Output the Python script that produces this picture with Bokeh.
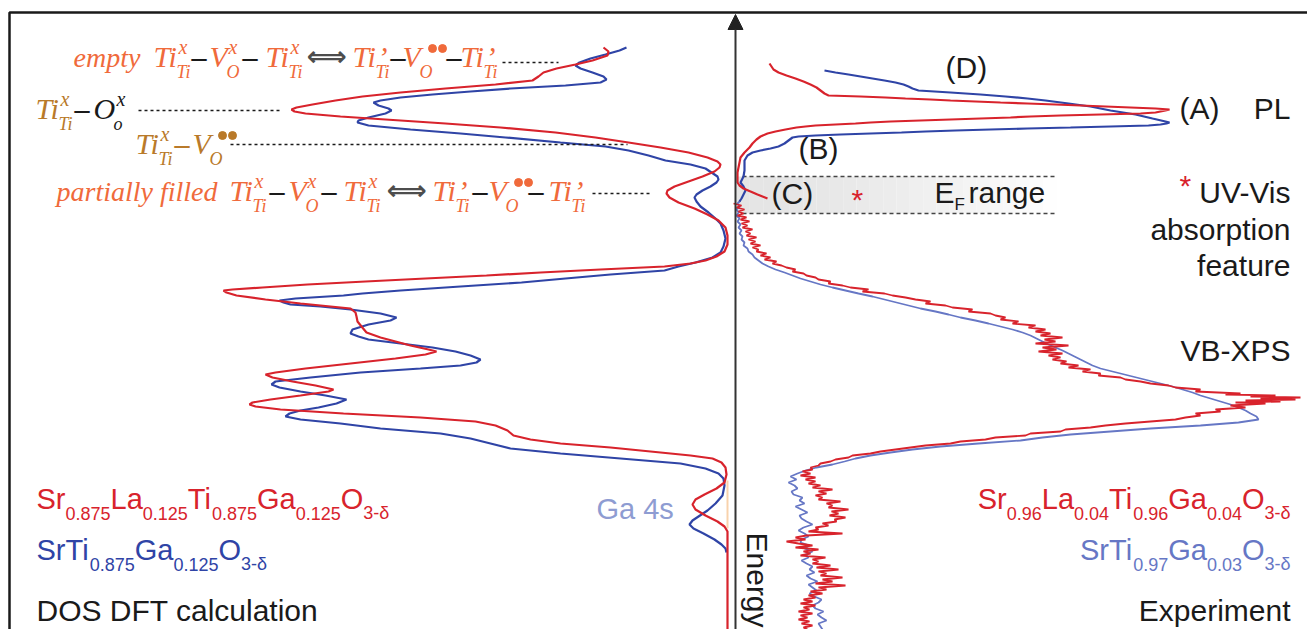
import math
from bokeh.plotting import figure
from bokeh.models import Range1d, Arrow, NormalHead
from bokeh.core.properties import value
from bokeh.embed import file_html
from bokeh.resources import INLINE

W, H = 1307, 629
AXIS_X = 735

RED = "#D8232C"
BLUE = "#2F44A6"
BLUE_L = "#6677C5"
ORANGE = "#F06A3B"
GOLD = "#B97A2A"
GA = "#8E9CD2"
INK = "#1a1a1a"
SANS = "Liberation Sans"
SERIF = "Liberation Serif"

# ---------------- data ----------------
# rows = energy level (pixel row from the top of the panel), x = curve position
dos_red_row = [47,51,55,60,64,68,72,76,80,84,88,92,96,100,104,107,109,111,113,116,
               119,123,127,132,137,142,147,152,157,161,164,167,171,176,181,186,190,193,197,202,
               208,214,220,227,235,244,251,256,260,263,266,269,272,275,278,281,284,287,289,290,
               292,295,299,303,308,312,316,321,326,332,337,341,345,349,351,354,358,363,368,372,
               374,377,381,385,389,391,395,399,402,404,406,409,413,417,421,425,430,435,439,443,
               447,451,455,458,462,467,474,482,488,494,499,504,509,515,521,526,531,629]
dos_red_x = [603,608,607,592,575,556,543,538,532,495,445,400,362,335,312,296,291,294,305,340,
             385,445,500,555,595,628,660,688,707,717,720,719,714,702,688,674,667,666,669,678,
             694,707,718,725,727,727,724,716,705,690,664,600,540,486,425,365,307,262,232,223,
             226,236,265,300,350,355,356,357,361,366,380,395,410,428,436,425,395,350,305,275,
             265,272,292,315,333,328,300,270,252,249,255,280,343,420,475,495,507,513,530,560,
             610,650,690,712,721,725,726,724,716,704,695,692,695,705,717,724,727,727]

dos_blue_row = [47,50,54,58,62,65,68,72,76,79,82,85,88,91,94,97,100,102,105,108,
                110,113,117,120,122,125,129,133,137,142,146,150,155,160,164,168,172,176,179,182,
                186,190,194,197,201,206,212,218,223,230,238,246,252,257,262,266,270,274,278,282,
                286,290,293,295,298,300,302,304,306,309,313,317,320,324,329,333,336,339,343,347,
                351,355,359,362,365,368,372,377,381,384,387,391,395,399,403,407,410,413,416,419,
                423,428,433,438,443,448,453,458,463,468,473,478,485,495,503,510,516,520,524,528,
                533,539,544,548,552]
dos_blue_x = [626,619,605,590,579,575,580,592,603,606,600,565,510,470,432,400,380,373,378,388,
              391,385,368,358,357,368,410,460,505,560,605,628,648,665,690,705,711,717,718,716,
              710,702,696,694,696,700,708,715,720,723,725,723,720,712,695,678,664,610,565,521,
              460,400,362,343,295,279,283,290,320,350,380,396,390,368,352,350,358,368,400,432,
              455,470,480,476,460,420,360,310,275,271,279,300,325,346,336,318,300,289,285,300,
              340,380,440,470,490,510,560,620,680,705,718,723,724,722,715,707,698,692,689,693,
              703,714,721,725,726]

pl_red_row = [63,66,69,72,75,78,81,84,87,90,93,95,96,97,98,99,100,101,102,103,104,105,106,107,
              108,109,110,111,112,113,114,115,116,117,118,119,120,121,122,123,124,125,126,127,
              129,131,133,136,139,143,147,152,157,162,167,172,177,182,185,188,191,194,196,198]
pl_red_x = [769,771,773,778,786,795,803,810,816,820,824,828,860,885,905,930,950,975,1000,1027,
            1055,1080,1105,1130,1155,1169,1165,1160,1155,1140,1100,1060,1030,1010,980,950,920,890,
            870,855,835,815,805,796,785,775,767,760,756,752,749,744,740,739,738,737,737,737,
            739,743,750,757,762,767]

pl_blue_row = [70,72,74,76,78,80,82,84,86,88,90,92,94,96,98,100,103,106,110,114,118,
               121,122,123,124,125,126,127,128,129,130,131,132,133,134,135,136,137,
               140,143,146,148,150,152,155,160,165,170,176,182,186,190,194,198,201]
pl_blue_x = [824,835,848,860,872,884,895,903,908,912,918,950,980,1005,1027,1045,1068,1090,1110,1135,1152,
             1165,1169,1166,1160,1148,1110,1070,1027,990,955,925,901,870,840,815,798,792,
             788,784,778,770,760,752,747,744,744,744,743,740,743,745,743,741,739]

xps_red_row = [203,205,207,209,211,213,215,217,219,221,223,225,227,229,231,233,235,237,239,241,
               243,245,247,249,251,253,255,257,259,261,263,265,267,269,271,273,275,277,279,281,
               283,285,287,289,291,293,295,297,299,301,303,305,307,309,311,313,315,317,319,321,
               323,325,327,329,331,333,335,337,339,341,343,345,347,349,351,353,355,357,359,361,
               363,365,367,369,371,373,375,377,379,381,383,385,387,389,391,393,394,395,396,397,
               398,399,400,401,402,403,405,407,409,411,413,415,417,419,421,423,425,427,429,431,
               433,435,437,439,441,443,445,447,449,451,453,455,457,459,461,463,465,467,469,471,
               473,475,477,479,481,483,485,487,489,491,493,495,497,499,501,503,505,507,509,511,
               513,515,517,519,521,523,525,527,529,531,533,535,537,539,541,543,545,547,549,551,
               553,555,557,559,561,563,565,567,569,571,573,575,577,579,581,583,585,587,589,591,
               593,595,597,599,601,603,605,607,609,611,613,615,617,619,621,623,625,627,629]
xps_red_x = [733,741,736,744,738,743,737,746,740,749,741,747,742,752,745,750,746,756,748,755,
             750,760,752,758,756,766,760,770,764,776,772,781,786,795,792,803,806,815,818,830,
             828,842,850,868,862,884,892,905,915,930,925,945,952,972,968,990,995,1005,1000,1018,
             1012,1035,1028,1045,1035,1050,1040,1062,1044,1055,1035,1068,1042,1056,1038,1062,1048,1060,1052,1066,
             1060,1078,1068,1090,1082,1100,1098,1120,1125,1140,1150,1168,1175,1200,1195,1240,1225,1275,1250,1300,
             1260,1295,1245,1280,1235,1265,1230,1245,1215,1220,1195,1200,1185,1175,1150,1125,1105,1090,1065,1060,
             1030,1025,995,985,960,950,925,910,895,880,870,852,848,835,830,820,818,810,812,802,
             810,800,815,805,815,808,820,812,832,818,826,815,822,818,840,826,832,828,848,831,
             838,829,845,834,836,822,828,815,818,808,842,806,795,805,786,798,812,795,818,803,
             810,800,825,812,818,812,830,816,838,818,826,820,842,822,832,815,845,818,826,810,
             822,808,815,803,812,800,815,803,809,798,812,800,807,798,809,801,812,803,807]

xps_blue_row = [200,203,206,209,212,215,218,221,224,227,230,233,236,239,242,245,248,251,254,257,
                260,263,266,269,272,275,278,281,284,287,290,293,296,299,302,305,308,311,314,317,
                320,323,326,329,332,335,338,341,344,347,350,353,356,359,362,365,368,371,374,377,
                380,383,386,389,392,395,398,401,404,407,410,413,416,419,422,425,428,431,434,437,
                440,443,446,449,452,455,458,461,464,467,470,473,476,479,482,485,488,491,494,497,
                500,503,506,509,512,515,518,521,524,527,530,533,536,539,542,545,548,551,554,557,
                560,563,566,569,572,575,578,581,584,587,590,593,596,599,602,605,608,611,614,617,
                620,623,626,629]
xps_blue_x = [740,737,739,736,738,736,739,737,740,738,741,739,742,741,744,743,747,748,752,754,
              758,762,768,775,784,792,800,810,820,832,845,858,872,884,896,908,920,935,948,960,
              975,988,1000,1012,1022,1030,1036,1042,1048,1055,1062,1068,1074,1080,1086,1092,1100,1112,1124,1136,
              1148,1160,1172,1182,1192,1200,1210,1220,1230,1238,1245,1250,1256,1258,1238,1200,1150,1110,1070,1042,
              1020,978,940,912,890,870,855,844,832,816,805,797,790,796,788,794,797,791,793,802,
              799,804,795,801,807,799,801,806,812,803,798,804,808,801,800,809,804,812,805,808,
              801,806,812,809,814,806,810,817,808,812,816,809,814,821,818,812,815,823,817,821,
              826,818,820,822]

# chemical formulas (text, is_subscript)
dft_red_formula = [("Sr", 0), ("0.875", 1), ("La", 0), ("0.125", 1), ("Ti", 0), ("0.875", 1),
                   ("Ga", 0), ("0.125", 1), ("O", 0), ("3-δ", 1)]
dft_blue_formula = [("SrTi", 0), ("0.875", 1), ("Ga", 0), ("0.125", 1), ("O", 0), ("3-δ", 1)]
exp_red_formula = [("Sr", 0), ("0.96", 1), ("La", 0), ("0.04", 1), ("Ti", 0), ("0.96", 1),
                   ("Ga", 0), ("0.04", 1), ("O", 0), ("3-δ", 1)]
exp_blue_formula = [("SrTi", 0), ("0.97", 1), ("Ga", 0), ("0.03", 1), ("O", 0), ("3-δ", 1)]


def Y(r):
    return H - r


p = figure(width=W, height=H, x_range=Range1d(0, W), y_range=Range1d(0, H),
           output_backend="svg", toolbar_location=None, min_border=0,
           x_axis_type=None, y_axis_type=None, outline_line_color=None,
           background_fill_color="white", border_fill_color="white")

# ---- E_F band (soft gray, fading to the right) ----
n = 24
bx0, bx1 = 736, 1056
lefts, rights, cols = [], [], []
for i in range(n):
    a = bx0 + (bx1 - bx0) * i / n
    b = bx0 + (bx1 - bx0) * (i + 1) / n
    t = i / (n - 1)
    g = int(229 + 25 * t ** 1.6)
    lefts.append(a); rights.append(b); cols.append("#%02x%02x%02x" % (g, g, g))
p.quad(left=lefts, right=rights, bottom=Y(213), top=Y(176), fill_color=cols, line_color=None)
p.segment(x0=[742, 742], y0=[Y(176), Y(213)], x1=[1054, 1054], y1=[Y(176), Y(213)],
          line_color="#444444", line_width=1.5, line_dash="4 3")

# ---- frame (left and top edges) ----
p.line([9, 9, W + 5], [Y(H + 5), Y(12), Y(12)], line_color=INK, line_width=2.5)

# ---- Ga 4s faint marker ----
p.line([727, 727], [Y(480), Y(528)], line_color="#F8D2AC", line_width=2)

# ---- curves ----
p.line(dos_blue_x, [Y(r) for r in dos_blue_row], line_color=BLUE, line_width=2.2)
p.line(dos_red_x, [Y(r) for r in dos_red_row], line_color=RED, line_width=2.2)
p.line(xps_blue_x, [Y(r) for r in xps_blue_row], line_color=BLUE_L, line_width=1.8)
p.line(xps_red_x, [Y(r) for r in xps_red_row], line_color=RED, line_width=1.8)
p.line(pl_blue_x, [Y(r) for r in pl_blue_row], line_color=BLUE, line_width=2.2)
p.line(pl_red_x, [Y(r) for r in pl_red_row], line_color=RED, line_width=2.2)

# ---- energy axis arrow ----
p.add_layout(Arrow(end=NormalHead(size=15, fill_color="#222222", line_color="#222222"),
                   x_start=AXIS_X, y_start=Y(H + 5), x_end=AXIS_X, y_end=Y(14),
                   line_color="#333333", line_width=2))

# ---- dotted guide lines ----
p.segment(x0=[502, 138, 230, 592], y0=[Y(62), Y(110), Y(144), Y(193)],
          x1=[558, 282, 627, 650], y1=[Y(62), Y(110), Y(144), Y(193)],
          line_color=INK, line_width=1.5, line_dash="3 3")

# ---- text machinery ----
texts = {}
dots = {}
SHIFT = 0.36  # em correction so that the glyph baseline lands on the requested row


def add(x, y, s, size, color, font=SANS, style="normal", align="left", angle=0.0):
    if angle == 0.0:
        y = y - SHIFT * size
    else:
        x = x + SHIFT * size
    key = (font, size, color, style, align, angle)
    d = texts.setdefault(key, dict(x=[], y=[], text=[]))
    d["x"].append(x); d["y"].append(Y(y)); d["text"].append(s)


ARIAL = {"S": 667, "r": 333, "L": 556, "a": 556, "T": 611, "i": 222, "G": 778, "O": 778,
         ".": 278, "-": 333, "δ": 556, " ": 278}


def wid(s, size):
    return sum(ARIAL.get(c, 556) for c in s) * size / 1000.0


def formula(parts, x, y, color, main=29, sub=18, align="left"):
    total = sum(wid(t, sub if s else main) for t, s in parts)
    if align == "right":
        x = x - total
    for t, s in parts:
        sz = sub if s else main
        add(x, y + (10 if s else 0), t, sz, color)
        x += wid(t, sz)


KVW = {"Ti": 24.0, "V": 18.0, "O": 21.0}
MAIN = 30
WORD = 28


def kv(x, y, base, sup, sub, color):
    w = KVW[base]
    add(x, y, base, MAIN, color, SERIF, "italic")
    if sup == "dots":
        d = dots.setdefault(color, ([], []))
        d[0].extend([x + w + 12, x + w + 22]); d[1].extend([Y(y - 19), Y(y - 19)])
    elif sup == "’":
        add(x + w + 1, y, "’", MAIN, color, SERIF, "italic")
    else:
        add(x + w + 1, y - 13, sup, 20, color, SERIF, "italic")
    add(x + w - 1, y + 11, sub, 18, color, SERIF, "italic")


def dash(x, y, color=INK):
    add(x, y, "–", MAIN, color, SERIF, "bold")


def dbl(x, y):
    add(x, y - 1, "⟺", 28, "#4d4d4d", "DejaVu Sans", "bold")


# empty line
add(73, 67, "empty", WORD, ORANGE, SERIF, "italic")
kv(153, 67, "Ti", "x", "Ti", ORANGE); dash(191, 67)
kv(209, 67, "V", "x", "O", ORANGE); dash(242, 67)
kv(265, 67, "Ti", "x", "Ti", ORANGE); dbl(306, 67)
kv(352, 67, "Ti", "’", "Ti", ORANGE); dash(390, 67)
kv(402, 67, "V", "dots", "O", ORANGE); dash(446, 67)
kv(460, 67, "Ti", "’", "Ti", ORANGE)

# Ti - O line
kv(35, 119, "Ti", "x", "Ti", GOLD); dash(74, 119)
add(93, 119, "O", MAIN, INK, SERIF, "italic")
add(116, 106, "x", 20, INK, SERIF, "italic")
add(113, 130, "o", 18, INK, SERIF, "italic")

# Ti - V line
kv(135, 154, "Ti", "x", "Ti", GOLD); dash(174, 154, GOLD)
kv(192, 154, "V", "dots", "O", GOLD)

# partially filled line
add(56, 201, "partially filled", WORD, ORANGE, SERIF, "italic")
kv(229, 201, "Ti", "x", "Ti", ORANGE); dash(269, 201)
kv(288, 201, "V", "x", "O", ORANGE); dash(321, 201)
kv(343, 201, "Ti", "x", "Ti", ORANGE); dbl(386, 201)
kv(432, 201, "Ti", "’", "Ti", ORANGE); dash(472, 201)
kv(488, 201, "V", "dots", "O", ORANGE); dash(528, 201)
kv(548, 201, "Ti", "’", "Ti", ORANGE)

# right panel labels
add(945, 78, "(D)", 30, INK)
add(1179, 119, "(A)", 30, INK)
add(1290, 119, "PL", 30, INK, align="right")
add(798, 159, "(B)", 30, INK)
add(771, 204, "(C)", 30, INK)
add(851, 210, "*", 30, RED)
add(934, 203, "E", 30, INK)
add(954, 210, "F", 17, INK)
add(968, 203, "range", 30, INK)
add(1179, 196, "*", 30, RED)
add(1290, 203, "UV-Vis", 30, INK, align="right")
add(1290, 240, "absorption", 30, INK, align="right")
add(1290, 276, "feature", 30, INK, align="right")
add(1290, 361, "VB-XPS", 30, INK, align="right")
formula(exp_red_formula, 1290, 509, RED, align="right")
formula(exp_blue_formula, 1290, 560, BLUE_L, align="right")
add(1290, 621, "Experiment", 30, INK, align="right")

# left panel labels
formula(dft_red_formula, 36, 509, RED)
formula(dft_blue_formula, 36, 560, BLUE)
add(36, 621, "DOS DFT calculation", 30, INK)
add(596, 519, "Ga 4s", 29, GA)
add(746, 532, "Energy", 30, INK, angle=-math.pi / 2)

for color, (xs, ys) in dots.items():
    p.scatter(xs, ys, size=8, marker="circle", fill_color=color, line_color=color)

for (font, size, color, style, align, angle), d in texts.items():
    p.text(x=d["x"], y=d["y"], text=d["text"], text_font=value(font),
           text_font_size=value("%dpx" % size), text_color=color,
           text_font_style=style, text_align=align, text_baseline="alphabetic", angle=angle)

open("out.html", "w").write(file_html(p, INLINE))
